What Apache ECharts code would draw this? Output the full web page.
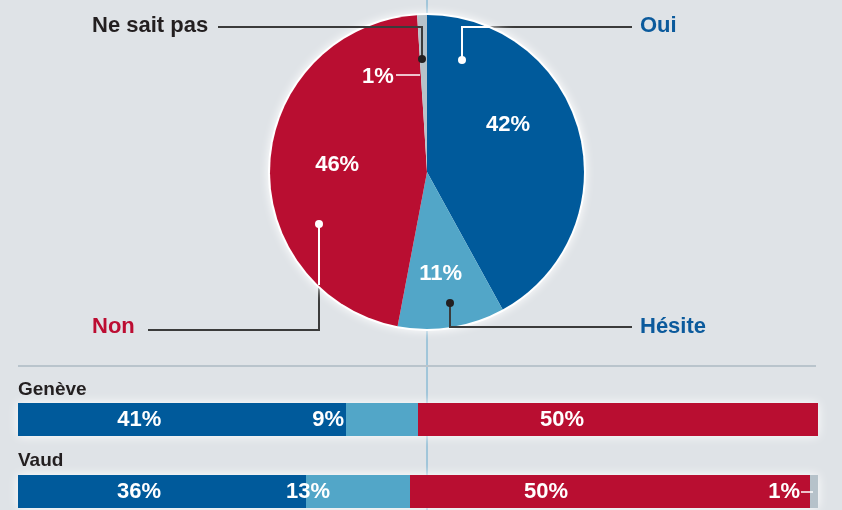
<!DOCTYPE html>
<html>
<head>
<meta charset="utf-8">
<script src="https://cdn.jsdelivr.net/npm/echarts@6/dist/echarts.min.js"></script>
<style>
  html, body { margin: 0; padding: 0; background: #dfe3e7; }
  #main { width: 842px; height: 510px; }
</style>
</head>
<body>
<div id="main"></div>
<script>
// donnees
var categories = ['Oui', 'Hésite', 'Non', 'Ne sait pas']
var totalValues = [42, 11, 46, 1]
var regions = ['Genève', 'Vaud']
var regionOui = [41, 36]
var regionHesite = [9, 13]
var regionNon = [50, 50]
var regionNsp = [0, 1]
var regionTotal = [100, 100]

var colors = ['#005a9b', '#52a6c8', '#b90e31', '#b6c2ca']
var textColors = ['#0b5a9c', '#0b5a9c', '#bc0d32', '#231f20']
var FONT = '"Liberation Sans", Arial, sans-serif'

// position des pourcentages dans le camembert (decalage depuis la position 'inside')
var pieLabelShift = [[2, -27], [1, 21], [-8.5, -2], [-46.5, -13.5]]

// position des etiquettes dans les barres
var barLabelLayout = {
  oui: [{ position: ['37%', '50%'], align: 'center' }, { position: ['42%', '50%'], align: 'center' }],
  hesite: [{ position: [-2, '50%'], align: 'right' }, { position: [24, '50%'], align: 'right' }],
  non: [{ position: ['36%', '50%'], align: 'center' }, { position: ['34%', '50%'], align: 'center' }],
  nsp: [{ show: false }, { position: [-10, '50%'], align: 'right' }]
}

function barData(values, layout) {
  return values.map(function (v, i) {
    return {
      value: v,
      label: Object.assign({ verticalAlign: 'middle' }, layout[i])
    }
  })
}

function barSeries(name, values, layout, color) {
  return {
    name: name,
    type: 'bar',
    stack: 'total',
    barWidth: 33,
    barGap: '-100%',
    z: 3,
    itemStyle: { color: color },
    label: {
      show: true,
      color: '#fff',
      fontFamily: FONT,
      fontWeight: 'bold',
      fontSize: 22,
      formatter: '{c}%'
    },
    data: barData(values, layout)
  }
}

var chart = echarts.init(document.getElementById('main'))

var lineDark = '#3b3b3b'
var graphics = [
  // repere vertical et separateur
  { type: 'line', z: 0, shape: { x1: 427, y1: 0, x2: 427, y2: 510 }, style: { stroke: '#62a8cc', lineWidth: 1 } },
  { type: 'line', z: 0, shape: { x1: 18, y1: 366, x2: 816, y2: 366 }, style: { stroke: '#b9c4cc', lineWidth: 2 } },
  // Ne sait pas
  { type: 'polyline', z: 100, shape: { points: [[218, 27], [422, 27], [422, 59]] }, style: { stroke: lineDark, lineWidth: 2, fill: null } },
  { type: 'circle', z: 100, shape: { cx: 422, cy: 59, r: 4 }, style: { fill: '#231f20' } },
  { type: 'line', z: 100, shape: { x1: 396, y1: 75, x2: 420, y2: 75 }, style: { stroke: '#fff', lineWidth: 1.5 } },
  // Oui
  { type: 'polyline', z: 0, shape: { points: [[462, 27], [632, 27]] }, style: { stroke: lineDark, lineWidth: 2, fill: null } },
  { type: 'polyline', z: 100, shape: { points: [[462, 60], [462, 27], [489, 27]] }, style: { stroke: '#fff', lineWidth: 2, fill: null } },
  { type: 'circle', z: 100, shape: { cx: 462, cy: 60, r: 4 }, style: { fill: '#fff' } },
  // Non
  { type: 'polyline', z: 0, shape: { points: [[319, 224], [319, 330], [148, 330]] }, style: { stroke: lineDark, lineWidth: 2, fill: null } },
  { type: 'polyline', z: 100, shape: { points: [[319, 224], [319, 285]] }, style: { stroke: '#fff', lineWidth: 2, fill: null } },
  { type: 'circle', z: 100, shape: { cx: 319, cy: 224, r: 4 }, style: { fill: '#fff' } },
  // Hesite
  { type: 'polyline', z: 100, shape: { points: [[450, 303], [450, 327], [632, 327]] }, style: { stroke: lineDark, lineWidth: 2, fill: null } },
  { type: 'circle', z: 100, shape: { cx: 450, cy: 303, r: 4 }, style: { fill: '#231f20' } },
  // 1% Vaud
  { type: 'line', z: 100, shape: { x1: 801, y1: 492, x2: 813, y2: 492 }, style: { stroke: '#fff', lineWidth: 1.5 } }
]

// noms des categories autour du camembert
var namePos = [[640, 26, 'left'], [640, 327, 'left'], [92, 327, 'left'], [92, 26, 'left']]
categories.forEach(function (c, i) {
  graphics.push({
    type: 'text', z: 100, x: namePos[i][0], y: namePos[i][1],
    style: {
      text: c, fill: textColors[i], font: 'bold 22px ' + FONT,
      align: namePos[i][2], verticalAlign: 'middle',
      textAlign: namePos[i][2], textVerticalAlign: 'middle'
    }
  })
})
// noms des cantons
var regionPos = [[18, 390], [18, 461]]
regions.forEach(function (r, i) {
  graphics.push({
    type: 'text', z: 100, x: regionPos[i][0], y: regionPos[i][1],
    style: {
      text: r, fill: '#231f20', font: 'bold 19px ' + FONT,
      align: 'left', verticalAlign: 'middle',
      textAlign: 'left', textVerticalAlign: 'middle'
    }
  })
})

var option = {
  backgroundColor: '#dfe3e7',
  animation: false,
  graphic: { elements: graphics },
  grid: { left: 18, right: 24, top: 419.5, bottom: 18.5, containLabel: false },
  xAxis: { type: 'value', min: 0, max: 100, show: false },
  yAxis: { type: 'category', data: regions, inverse: true, boundaryGap: false, show: false },
  series: [
    // halo blanc du camembert
    {
      type: 'pie',
      center: [427, 172],
      radius: 159,
      silent: true,
      z: 1,
      label: { show: false },
      labelLine: { show: false },
      itemStyle: { color: '#fff', shadowBlur: 10, shadowColor: 'rgba(255,255,255,1)' },
      data: [totalValues.reduce(function (a, b) { return a + b }, 0)]
    },
    {
      type: 'pie',
      center: [427, 172],
      radius: 157,
      startAngle: 90,
      clockwise: true,
      silent: true,
      z: 2,
      label: {
        show: true,
        position: 'inside',
        color: '#fff',
        fontFamily: FONT,
        fontWeight: 'bold',
        fontSize: 22,
        formatter: '{c}%'
      },
      labelLayout: function (p) {
        return { dx: pieLabelShift[p.dataIndex][0], dy: pieLabelShift[p.dataIndex][1] }
      },
      data: categories.map(function (c, i) {
        return { name: c, value: totalValues[i], itemStyle: { color: colors[i] } }
      })
    },
    // halo blanc des barres
    {
      type: 'bar',
      barWidth: 33,
      barGap: '-100%',
      silent: true,
      z: 1,
      itemStyle: { color: '#fff', shadowBlur: 10, shadowColor: 'rgba(255,255,255,1)' },
      data: regionTotal
    },
    barSeries(categories[0], regionOui, barLabelLayout.oui, colors[0]),
    barSeries(categories[1], regionHesite, barLabelLayout.hesite, colors[1]),
    barSeries(categories[2], regionNon, barLabelLayout.non, colors[2]),
    barSeries(categories[3], regionNsp, barLabelLayout.nsp, colors[3])
  ]
}

chart.setOption(option)
</script>
</body>
</html>
